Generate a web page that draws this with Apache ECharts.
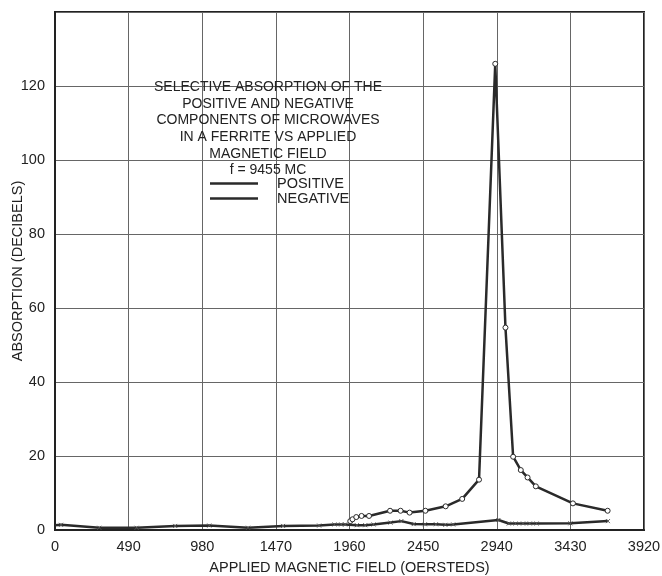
<!DOCTYPE html>
<html>
<head>
<meta charset="utf-8">
<script src="https://cdn.jsdelivr.net/npm/echarts@6/dist/echarts.min.js"></script>
<style>
html,body{margin:0;padding:0;background:#fff;}
#c{width:662px;height:576px;}
</style>
</head>
<body>
<div id="c"></div>
<script>
// ---- data ----
const xTicks = [0, 490, 980, 1470, 1960, 2450, 2940, 3430, 3920];
const yTicks = [0, 20, 40, 60, 80, 100, 120];
const posX = [1965, 1980, 2005, 2040, 2090, 2230, 2300, 2360, 2465, 2600, 2710, 2822, 2930, 2998, 3049, 3100, 3145, 3200, 3447, 3678];
const posY = [2.4, 2.9, 3.5, 3.8, 3.8, 5.2, 5.2, 4.7, 5.2, 6.4, 8.4, 13.6, 126, 54.7, 19.8, 16.2, 14.2, 11.8, 7.2, 5.2];
const negX = [0, 40, 295, 543, 800, 1027, 1285, 1518, 1758, 1860, 1905, 1931, 2009, 2065, 2120, 2233, 2305, 2387, 2462, 2535, 2598, 2650, 2951, 3020, 3065, 3115, 3160, 3205, 3430, 3680];
const negY = [1.3, 1.4, 0.6, 0.6, 1.1, 1.2, 0.6, 1.1, 1.2, 1.5, 1.5, 1.5, 1.3, 1.3, 1.5, 2.0, 2.4, 1.6, 1.55, 1.55, 1.4, 1.5, 2.7, 1.75, 1.75, 1.75, 1.75, 1.75, 1.8, 2.4];
const titleLines = ['SELECTIVE ABSORPTION OF THE', 'POSITIVE AND NEGATIVE', 'COMPONENTS OF MICROWAVES', 'IN A FERRITE VS APPLIED', 'MAGNETIC FIELD', 'f = 9455 MC'];
const seriesNames = ['POSITIVE', 'NEGATIVE'];

const posData = posX.map((x, i) => [x, posY[i]]);
const negData = negX.map((x, i) => i === 0 ? {value: [x, negY[i]], symbol: 'none'} : [x, negY[i]]);

const FONT = '"Liberation Sans", Arial, sans-serif';
const chart = echarts.init(document.getElementById('c'), null, {renderer: 'canvas'});
const xSym = 'path://M0,0L10,10M10,0L0,10';
chart.setOption({
  animation: false,
  backgroundColor: '#fff',
  textStyle: {fontFamily: FONT},
  title: {
    text: titleLines.join('\n'),
    left: 263, top: 74, textAlign: 'center',
    textStyle: {fontFamily: FONT, fontSize: 14, fontWeight: 'normal', color: '#222', lineHeight: 16.6}
  },
  legend: {
    orient: 'vertical', left: 205, top: 171, itemWidth: 48, itemHeight: 2.5, itemGap: 0,
    icon: 'rect',
    data: seriesNames,
    itemStyle: {color: '#2a2a2a', borderWidth: 0},
    textStyle: {fontFamily: FONT, fontSize: 14.5, color: '#222', padding: [0, 0, 0, 14], lineHeight: 14}
  },
  grid: {left: 55, right: 18, top: 12, bottom: 46, outerBoundsMode: 'none', containLabel: false,
    show: true, borderColor: '#222', borderWidth: 2, backgroundColor: 'transparent'},
  xAxis: {
    type: 'value', min: 0, max: 3920, interval: 490,
    name: 'APPLIED MAGNETIC FIELD (OERSTEDS)', nameLocation: 'middle', nameGap: 30,
    nameMoveOverlap: false,
    nameTextStyle: {fontFamily: FONT, fontSize: 14.5, color: '#222'},
    axisLine: {show: true, onZero: false, lineStyle: {color: '#222', width: 2}},
    axisTick: {show: false},
    splitLine: {show: true, lineStyle: {color: '#666', width: 1}},
    axisLabel: {fontFamily: FONT, fontSize: 14.5, color: '#222', margin: 9,
      formatter: v => xTicks.includes(v) ? String(v) : ''}
  },
  yAxis: {
    type: 'value', min: 0, max: 140, interval: 20,
    name: 'ABSORPTION (DECIBELS)', nameLocation: 'middle', nameGap: 30,
    nameMoveOverlap: false,
    nameTextStyle: {fontFamily: FONT, fontSize: 14.5, color: '#222'},
    axisLine: {show: true, lineStyle: {color: '#222', width: 2}},
    axisTick: {show: false},
    splitLine: {show: true, lineStyle: {color: '#666', width: 1}},
    axisLabel: {fontFamily: FONT, fontSize: 14.5, color: '#222', margin: 10,
      formatter: v => yTicks.includes(v) ? String(v) : ''}
  },
  series: [
    {
      name: seriesNames[0], type: 'line', data: posData,
      symbol: 'circle', symbolSize: 5, showAllSymbol: true,
      lineStyle: {color: '#2a2a2a', width: 2.5},
      itemStyle: {color: '#fff', borderColor: '#2a2a2a', borderWidth: 1},
      z: 3
    },
    {
      name: seriesNames[1], type: 'line', data: negData,
      symbol: xSym, symbolSize: 4, showAllSymbol: true,
      lineStyle: {color: '#2a2a2a', width: 2.5},
      itemStyle: {color: '#2a2a2a', borderColor: '#555', borderWidth: 1},
      z: 2
    }
  ]
});
</script>
</body>
</html>
